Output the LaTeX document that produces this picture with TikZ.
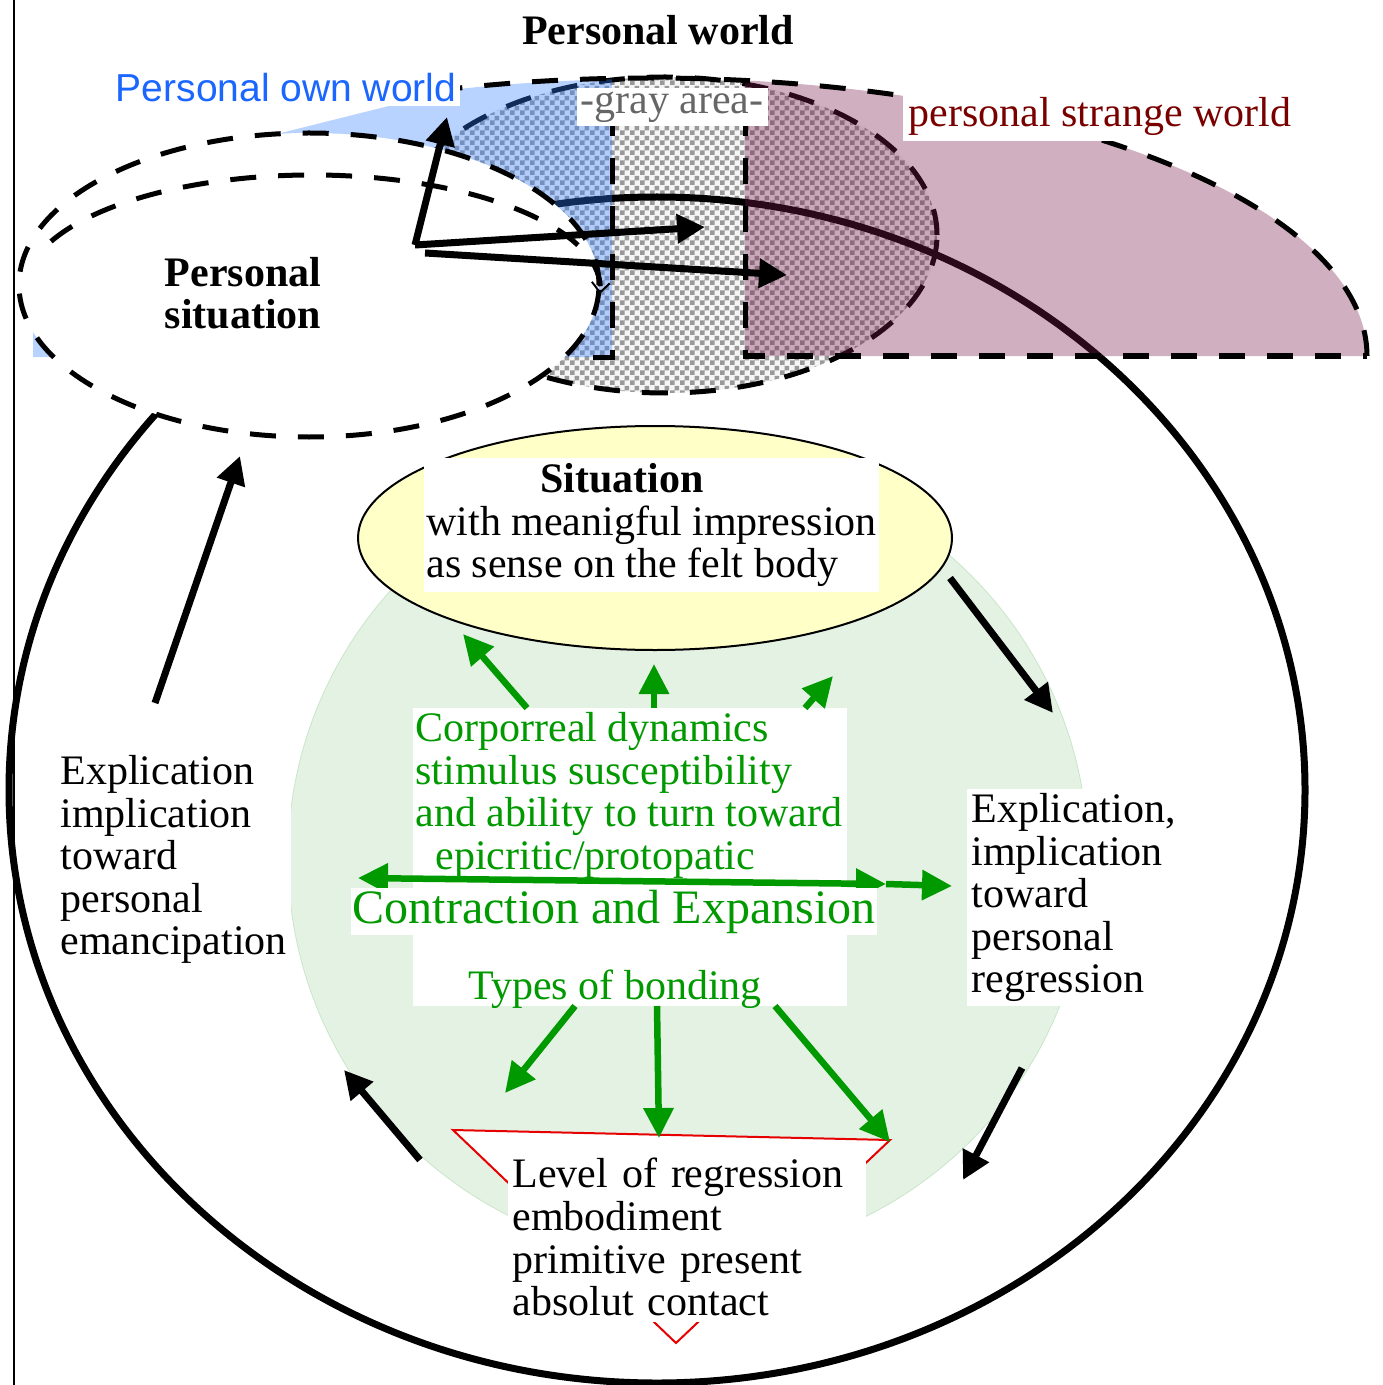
\documentclass[tikz,border=0pt]{standalone}
\usepackage{fontspec}
\setmainfont{Liberation Serif}
\setsansfont{Liberation Sans}
\usetikzlibrary{arrows.meta,patterns}
\definecolor{ownblue}{RGB}{51,128,255}
\definecolor{owntext}{RGB}{26,102,255}
\definecolor{strangefill}{RGB}{121,29,75}
\definecolor{strangetext}{RGB}{122,0,0}
\definecolor{corpgreen}{RGB}{0,153,0}
\definecolor{bodyfill}{RGB}{228,242,228}
\definecolor{bodyline}{RGB}{200,230,200}
\definecolor{sitfill}{RGB}{255,255,200}
\definecolor{grayarea}{RGB}{102,102,102}
\definecolor{levelred}{RGB}{230,0,0}
\pgfdeclarepatternformonly{finecheck}{\pgfpointorigin}{\pgfqpoint{5pt}{5pt}}{\pgfqpoint{5pt}{5pt}}%
{\pgfpathrectangle{\pgfpointorigin}{\pgfqpoint{2.5pt}{2.5pt}}%
 \pgfpathrectangle{\pgfqpoint{2.5pt}{2.5pt}}{\pgfqpoint{2.5pt}{2.5pt}}%
 \pgfusepath{fill}}

\begin{document}
\begin{tikzpicture}[x=0.5pt, y=-0.5pt,
  txt/.style={font=\fontsize{21}{21.3}\selectfont, inner sep=0pt},
  bigarrow/.style={line width=3.5pt, -{Triangle[length=14pt,width=14pt]}},
  grarrow/.style={corpgreen, line width=3.25pt, -{Triangle[length=15pt,width=14.5pt]}},
  dashline/.style={line width=2.5pt, dash pattern=on 13pt off 11pt}]
\useasboundingbox (0,0) rectangle (1382,1385);

%% gray area between the two worlds
\fill[black!4] (665,235) ellipse [x radius=136pt, y radius=79pt];
\draw[dashline, pattern=finecheck, pattern color=black!40]
 (665,235) ellipse [x radius=136pt, y radius=79pt];

%% personal world
\draw[line width=3.5pt] (657,790) ellipse [x radius=324pt, y radius=296.5pt];

%% own world and strange world
\begin{scope}
\clip (33,357) -- (33,320) -- (281,320) -- (281,133) -- (457,89) -- (457,0) -- (612,0) -- (612,357) -- cycle;
\fill[ownblue, opacity=0.35] (1367,357) arc[start angle=0, end angle=180, x radius=358.5pt, y radius=139pt] -- cycle;
\end{scope}
\begin{scope}
\clip (745,0) rectangle (1400,356);
\fill[strangefill, opacity=0.35] (1367,356) arc[start angle=0, end angle=180, x radius=358.5pt, y radius=139pt] -- cycle;
\end{scope}
\draw[dashline] (1367,356) arc[start angle=0, end angle=106, x radius=358.5pt, y radius=139pt];
\draw[dashline] (745,110) -- (745,356) -- (1367,356);
\draw[dashline] (612,110) -- (612,357) -- (578,357);

%% personal situation
\draw[dashline, fill=white] (309,285) ellipse [x radius=145pt, y radius=76pt];
\draw[dashline, -{Straight Barb[length=5pt,width=9pt,line width=1pt]}]
 (51,241.4) arc[start angle=155, end angle=-2, x radius=144pt, y radius=57.5pt];
\node[txt, font=\fontsize{21}{21.3}\selectfont\bfseries, align=center] (persit) at (243,293) {Personal\\situation};

%% arrows out of the personal situation
\coordinate (me) at (415,245);
\coordinate (mefoot) at (425,253);
\coordinate (ownend) at (447,117);
\coordinate (grayend) at (705,227);
\coordinate (strangeend) at (787,275);
\draw[bigarrow] (me) -- (ownend);
\draw[bigarrow] (me) -- (grayend);
\draw[bigarrow] (mefoot) -- (strangeend);

%% titles of the worlds
\node[txt, font=\fontsize{21}{21.3}\selectfont\bfseries] (world) at (658,30) {Personal world};
\node[font=\sffamily\fontsize{19.5}{21}\selectfont, text=owntext, fill=white, inner sep=2pt] (own) at (286,88) {Personal own world};
\node[txt, text=grayarea, fill=white, inner sep=2pt] (gray) at (672,107) {-gray area-};
\node[txt, text=strangetext, fill=white, inner sep=3pt] (strange) at (1100,116) {personal strange world};

%% felt body
\draw[bodyline, fill=bodyfill] (688,858) circle [radius=200pt];
\draw[line width=1pt, fill=sitfill] (655,538) ellipse [x radius=148.5pt, y radius=56pt];
\node[txt, fill=white, inner xsep=1pt, inner ysep=2.5pt, anchor=north west, align=left] (situation) at (424,458)
 {\hspace*{57pt}\textbf{Situation}\\with meanigful impression\\as sense on the felt body};

%% corporeal dynamics
\fill[white] (413,708) rectangle (847,1006);
\node[txt, text=corpgreen, anchor=north west, align=left] (corporeal) at (415,712)
 {Corporreal dynamics\\stimulus susceptibility\\and ability to turn toward\\\hspace*{10pt}epicritic/protopatic};
\node[txt, text=corpgreen, anchor=base] (bonding) at (615,999) {Types of bonding};

\coordinate (g1s) at (527,708); \coordinate (g1e) at (463,634);
\coordinate (g2s) at (654,708); \coordinate (g2e) at (654,664);
\coordinate (g3s) at (805,708); \coordinate (g3e) at (833,676);
\draw[grarrow] (g1s) -- (g1e);
\draw[grarrow] (g2s) -- (g2e);
\draw[grarrow] (g3s) -- (g3e);

\coordinate (hL) at (358,878); \coordinate (hM) at (886,884); \coordinate (hR) at (952,886);
\draw[grarrow, {Triangle[length=15pt,width=14.5pt]}-{Triangle[length=15pt,width=14.5pt]}] (hL) -- (hM);
\draw[grarrow] (hM) -- (hR);
\node[txt, font=\fontsize{24}{26}\selectfont, text=corpgreen, fill=white, inner xsep=1pt, inner ysep=1pt, anchor=base] (contraction) at (614,923) {Contraction and Expansion};

%% level of regression
\coordinate (lvA) at (453,1130); \coordinate (lvB) at (890,1140); \coordinate (lvC) at (676,1343);
\draw[levelred, line width=1pt, fill=white] (lvA) -- (lvB) -- (lvC) -- cycle;
\coordinate (d1s) at (575,1006); \coordinate (d1e) at (505,1093);
\coordinate (d2s) at (657,1006); \coordinate (d2e) at (659,1138);
\coordinate (d3s) at (775,1006); \coordinate (d3e) at (890,1142);
\draw[grarrow] (d1s) -- (d1e);
\draw[grarrow] (d2s) -- (d2e);
\draw[grarrow] (d3s) -- (d3e);
\node[txt, fill=white, inner xsep=2pt, inner ysep=3pt, text width=175pt, anchor=north west, align=left] (level) at (508,1152)
 {Level of regression\\embodiment\\primitive present\\absolut contact};

%% explication on both sides
\node[txt, fill=white, inner sep=2pt, anchor=north west, align=left] (emancip) at (56,751)
 {Explication\\implication\\toward\\personal\\emancipation};
\node[txt, fill=white, inner sep=2pt, anchor=north west, align=left] (regress) at (967,789)
 {Explication,\\implication\\toward\\personal\\regression};

\coordinate (ems) at (155,703); \coordinate (eme) at (240,456);
\coordinate (rgs) at (950,578); \coordinate (rge) at (1053,713);
\coordinate (rgs2) at (1022,1068); \coordinate (rge2) at (963,1180);
\coordinate (bks) at (420,1160); \coordinate (bke) at (344,1070);
\draw[bigarrow] (ems) -- (eme);
\draw[bigarrow] (rgs) -- (rge);
\draw[bigarrow] (rgs2) -- (rge2);
\draw[bigarrow] (bks) -- (bke);

%% margin line
\draw[line width=1pt] (14,0) -- (14,1385);

\end{tikzpicture}
\end{document}
